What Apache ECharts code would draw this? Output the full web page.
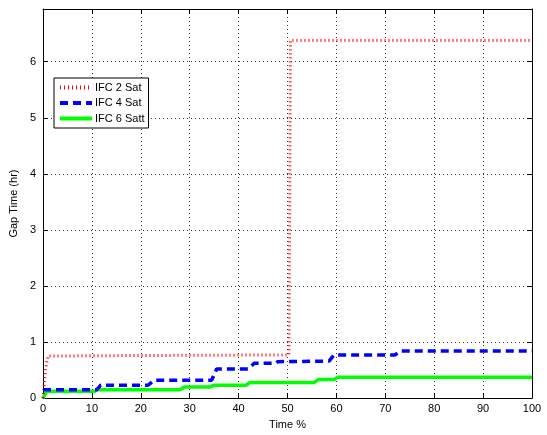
<!DOCTYPE html>
<html><head><meta charset="utf-8">
<script src="https://cdn.jsdelivr.net/npm/echarts@6/dist/echarts.min.js"></script>
<style>html,body{margin:0;padding:0;background:#fff}#c{width:547px;height:435px}</style>
</head><body><div id="c"></div>
<script>
var seriesNames = ['IFC 2 Sat', 'IFC 4 Sat', 'IFC 6 Satt'];
var ifc2X = [0, 0.5, 1, 20, 50.3, 50.6, 100];
var ifc2Y = [0, 0.5, 0.75, 0.76, 0.77, 6.38, 6.38];
var ifc4X = [0, 11, 11.8, 21.5, 22.8, 34.5, 35.5, 42, 43.2, 47.5, 48, 58.5, 59.5, 72, 73, 100];
var ifc4Y = [0.15, 0.15, 0.23, 0.23, 0.32, 0.32, 0.52, 0.52, 0.62, 0.62, 0.65, 0.66, 0.77, 0.77, 0.84, 0.84];
var ifc6X = [0, 0.7, 10.5, 11.2, 28, 29, 34.2, 35, 41.5, 42.3, 55.5, 56.3, 59.5, 60.2, 100];
var ifc6Y = [0, 0.12, 0.12, 0.15, 0.15, 0.2, 0.2, 0.23, 0.23, 0.28, 0.28, 0.33, 0.33, 0.37, 0.37];
var xTicks = [0, 10, 20, 30, 40, 50, 60, 70, 80, 90, 100];
var yTicks = [0, 1, 2, 3, 4, 5, 6];

function zip(a, b) { return a.map(function (v, i) { return [v, b[i]]; }); }
var font = 'Liberation Sans, Arial, sans-serif';
var styles = [
  { color: '#ff0000', width: 3, type: [1, 3] },
  { color: '#0000ff', width: 3.5, type: [8, 5] },
  { color: '#00ff00', width: 3.5, type: 'solid' }
];
var chart = echarts.init(document.getElementById('c'));
var baseX = {
  type: 'value', min: 0, max: 100, interval: 10,
  axisLine: { show: true, onZero: false, lineStyle: { color: '#000', width: 1 } },
  axisTick: { show: true, inside: true, length: 5, lineStyle: { color: '#000' } }
};
var baseY = {
  type: 'value', min: 0, max: 6.94, interval: 1,
  axisLine: { show: true, onZero: false, lineStyle: { color: '#000', width: 1 } },
  axisTick: { show: true, inside: true, length: 5, lineStyle: { color: '#000' } }
};
chart.setOption({
  animation: false,
  backgroundColor: '#fff',
  grid: { left: 41, right: 15, top: 9, bottom: 35, containLabel: false },
  legend: {
    left: 54, top: 78, orient: 'vertical',
    backgroundColor: '#fff', borderColor: '#000', borderWidth: 1, borderRadius: 0,
    padding: [4, 4, 4, 4], itemGap: 4.5, itemWidth: 32, itemHeight: 12,
    itemStyle: { opacity: 0, borderWidth: 0 },
    textStyle: { fontFamily: font, fontSize: 11, color: '#000', padding: [0, 0, 0, -2] },
    data: seriesNames.map(function (n, i) {
      return { name: n, lineStyle: { color: styles[i].color, width: 4, type: styles[i].type, opacity: 1 } };
    })
  },
  xAxis: [
    Object.assign({}, baseX, {
      position: 'bottom', name: 'Time %', nameLocation: 'middle', nameGap: 19,
      nameTextStyle: { fontFamily: font, fontSize: 11, color: '#000' },
      axisLabel: { fontFamily: font, fontSize: 11, color: '#000', margin: 5 },
      splitLine: { show: true, lineStyle: { color: '#333', type: [1, 3], width: 1 } }
    }),
    Object.assign({}, baseX, { position: 'top', axisLabel: { show: false }, splitLine: { show: false } })
  ],
  yAxis: [
    Object.assign({}, baseY, {
      position: 'left', name: 'Gap Time (hr)', nameLocation: 'middle', nameGap: 22,
      nameTextStyle: { fontFamily: font, fontSize: 11, color: '#000' },
      axisLabel: { fontFamily: font, fontSize: 11, color: '#000', margin: 7, showMaxLabel: false,
        formatter: function (v) { return Number.isInteger(v) ? String(v) : ''; } },
      splitLine: { show: true, lineStyle: { color: '#333', type: [1, 3], width: 1 } }
    }),
    Object.assign({}, baseY, { position: 'right', axisLabel: { show: false }, splitLine: { show: false } })
  ],
  series: [
    { name: seriesNames[0], type: 'line', data: zip(ifc2X, ifc2Y), showSymbol: false, symbol: 'none',
      lineStyle: styles[0], itemStyle: { color: styles[0].color }, z: 3 },
    { name: seriesNames[1], type: 'line', data: zip(ifc4X, ifc4Y), showSymbol: false, symbol: 'none',
      lineStyle: styles[1], itemStyle: { color: styles[1].color }, z: 4 },
    { name: seriesNames[2], type: 'line', data: zip(ifc6X, ifc6Y), showSymbol: false, symbol: 'none',
      lineStyle: styles[2], itemStyle: { color: styles[2].color }, z: 2 }
  ]
});
</script></body></html>
